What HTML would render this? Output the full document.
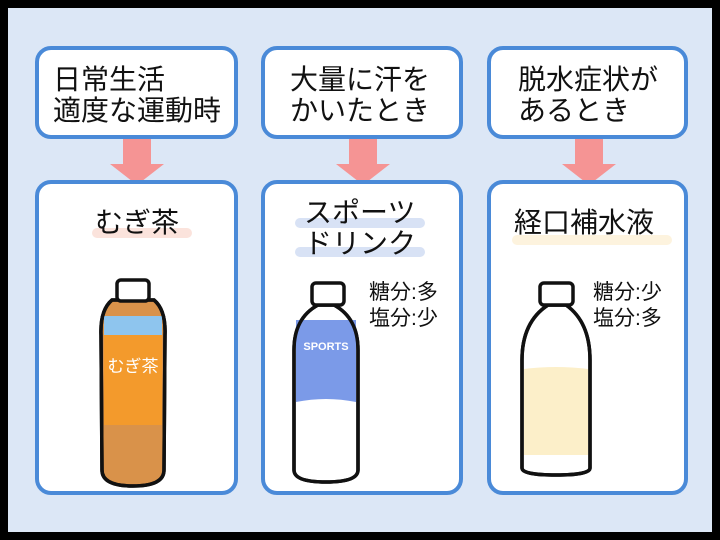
<!DOCTYPE html>
<html><head><meta charset="utf-8"><style>
body{margin:0;width:720px;height:540px;overflow:hidden;background:#000;font-family:"Liberation Sans","Noto Sans CJK JP",sans-serif;}
.bg{position:absolute;left:8px;top:8px;width:704px;height:524px;background:#dce7f6;}
.box{position:absolute;background:#fff;border:4px solid #4a8ad8;border-radius:16px;box-sizing:border-box;}
.t{position:absolute;font-size:28px;color:#111;line-height:31px;}
.s{position:absolute;font-size:21px;color:#111;line-height:26px;}
.arr{position:absolute;}
</style></head><body>
<div class="bg"></div>
<div class="box" style="left:35px;top:46px;width:203px;height:93px"></div>
<div class="box" style="left:261px;top:46px;width:202px;height:93px"></div>
<div class="box" style="left:487px;top:46px;width:201px;height:93px"></div>
<div class="t" style="left:53px;top:64px">日常生活<br>適度な運動時</div>
<div class="t" style="left:290px;top:64px">大量に汗を<br>かいたとき</div>
<div class="t" style="left:518px;top:64px">脱水症状が<br>あるとき</div>
<svg class="arr" width="720" height="540" style="left:0;top:0">
<g fill="#f59494">
<polygon points="123,139 151,139 151,164 164,164 137,185 110,164 123,164"/>
<polygon points="349,139 377,139 377,164 390,164 363,185 336,164 349,164"/>
<polygon points="575,139 603,139 603,164 616,164 589,185 562,164 575,164"/>
</g></svg>
<div class="box" style="left:35px;top:180px;width:203px;height:315px"></div>
<div class="box" style="left:261px;top:180px;width:202px;height:315px"></div>
<div class="box" style="left:487px;top:180px;width:201px;height:315px"></div>
<div style="position:absolute;left:92px;top:228px;width:100px;height:10px;background:#fbe3dc;border-radius:5px"></div>
<div style="position:absolute;left:295px;top:218px;width:130px;height:10px;background:#d8e2f5;border-radius:5px"></div>
<div style="position:absolute;left:295px;top:247px;width:130px;height:10px;background:#d8e2f5;border-radius:5px"></div>
<div style="position:absolute;left:512px;top:235px;width:160px;height:10px;background:#fdf3de;border-radius:5px"></div>
<div class="t" style="left:95px;top:207px">むぎ茶</div>
<div class="t" style="left:304px;top:197px;line-height:31px">スポーツ<br>ドリンク</div>
<div class="t" style="left:514px;top:207px">経口補水液</div>
<div class="s" style="left:369px;top:280px">糖分:多<br>塩分:少</div>
<div class="s" style="left:593px;top:280px">糖分:少<br>塩分:多</div>
<svg width="720" height="540" style="position:absolute;left:0;top:0">
<g stroke="#111" stroke-width="3.5">
<path d="M112,300 Q100,310 101,335 L102,470 Q102,486 133,486 Q164,486 164,470 L165,335 Q166,310 154,300 Z" fill="#d9924a"/>
<path d="M104,318 L162,318 L162,425 L104,425 Z" fill="#f39a2c" stroke="none"/>
<path d="M104,316 L162,316 L162,335 L104,335 Z" fill="#8ec5ee" stroke="none"/>
<text x="133" y="372" font-size="17" fill="#fff" stroke="none" text-anchor="middle" font-family="Noto Sans CJK JP">むぎ茶</text>
<path d="M112,300 Q100,310 101,335 L102,470 Q102,486 133,486 Q164,486 164,470 L165,335 Q166,310 154,300 Z" fill="none"/>
<rect x="117" y="280" width="32" height="21" rx="4" fill="#fff"/>
<path d="M318,305 Q294,318 294,350 L294,470 Q294,482 326,482 Q358,482 358,470 L358,350 Q358,318 334,305 Z" fill="#fff"/>
<path d="M296,320 L356,320 L356,402 Q326,396 296,402 Z" fill="#7b9ae8" stroke="none"/>
<text x="326" y="350" font-size="11" fill="#fff" stroke="none" text-anchor="middle" font-weight="bold">SPORTS</text>
<path d="M318,305 Q294,318 294,350 L294,470 Q294,482 326,482 Q358,482 358,470 L358,350 Q358,318 334,305 Z" fill="none"/>
<rect x="312" y="283" width="32" height="22" rx="4" fill="#fff"/>
<path d="M548,305 Q522,322 522,360 L522,468 Q522,475 556,475 Q590,475 590,468 L590,360 Q590,322 566,305 Z" fill="#fff"/>
<path d="M524,369 Q556,365 588,369 L588,455 L524,455 Z" fill="#fcefc9" stroke="none"/>
<path d="M548,305 Q522,322 522,360 L522,468 Q522,475 556,475 Q590,475 590,468 L590,360 Q590,322 566,305 Z" fill="none"/>
<rect x="540" y="283" width="33" height="22" rx="4" fill="#fff"/>
</g></svg>
</body></html>
